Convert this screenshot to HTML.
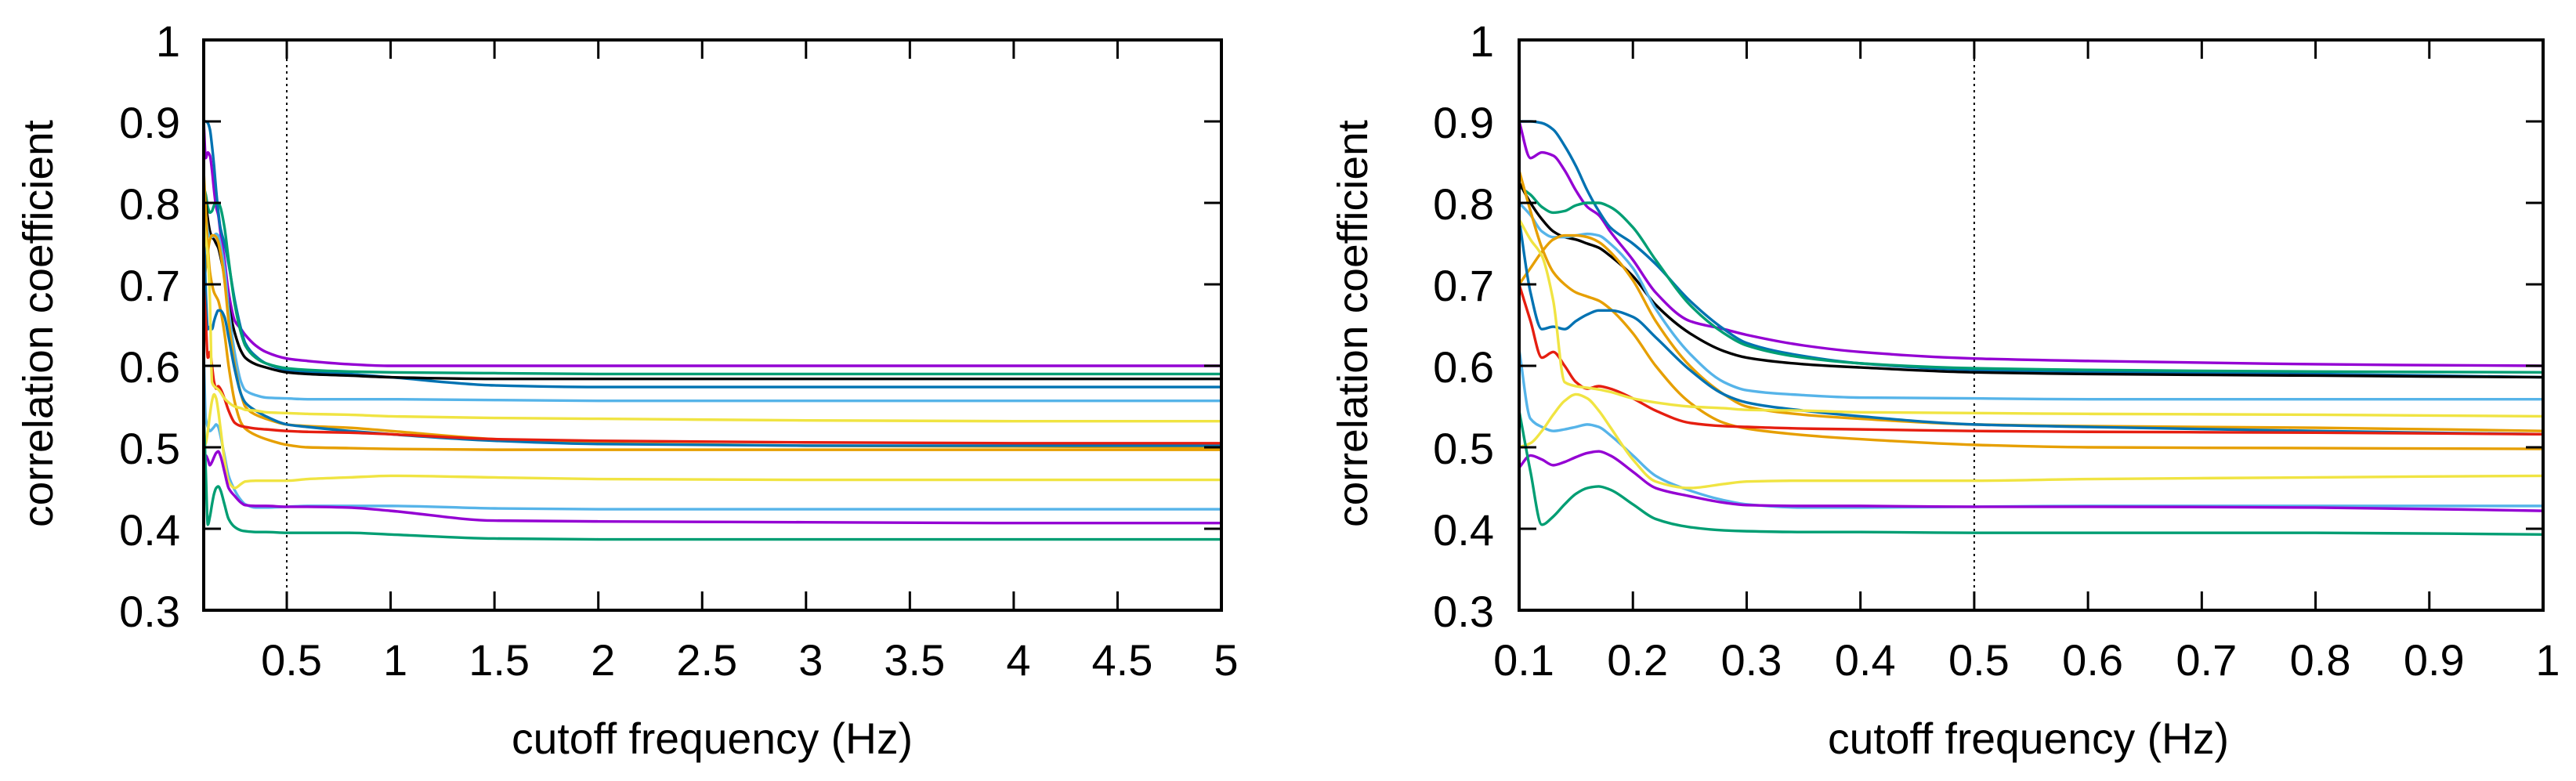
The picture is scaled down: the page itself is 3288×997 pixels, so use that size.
<!DOCTYPE html>
<html><head><meta charset="utf-8"><style>
html,body{margin:0;padding:0;background:#fff;}
svg{display:block;}
text{font-family:"Liberation Sans",sans-serif;fill:#000;}
</style></head>
<body>
<svg id="chart" width="3288" height="997" viewBox="0 0 3288 997" xmlns="http://www.w3.org/2000/svg"></svg>
<script>
const xs = [0.1,0.11,0.12,0.13,0.14,0.15,0.16,0.17,0.18,0.2,0.22,0.25,0.28,0.3,0.35,0.4,0.5,0.6,0.8,1,1.5,2,3,4,5];
const purple1 = [0.90,0.855,0.862,0.858,0.84,0.815,0.795,0.785,0.765,0.73,0.69,0.655,0.645,0.638,0.625,0.617,0.609,0.606,0.602,0.600,0.600,0.600,0.600,0.600,0.600];
const blue1 = [0.90,0.90,0.898,0.89,0.87,0.845,0.815,0.79,0.77,0.75,0.725,0.68,0.645,0.628,0.612,0.603,0.595,0.593,0.59,0.586,0.576,0.574,0.574,0.574,0.574];
const green1 = [0.82,0.81,0.795,0.788,0.79,0.797,0.80,0.80,0.795,0.77,0.73,0.675,0.64,0.625,0.61,0.603,0.597,0.595,0.593,0.592,0.591,0.59,0.59,0.59,0.59];
const black1 = [0.825,0.80,0.78,0.765,0.758,0.755,0.75,0.745,0.735,0.71,0.675,0.64,0.618,0.61,0.602,0.598,0.592,0.59,0.588,0.586,0.584,0.584,0.584,0.584,0.584];
const lightblue1 = [0.80,0.785,0.765,0.758,0.758,0.76,0.762,0.76,0.75,0.72,0.67,0.615,0.58,0.57,0.564,0.561,0.56,0.559,0.559,0.559,0.558,0.557,0.557,0.557,0.557];
const orange1 = [0.70,0.72,0.74,0.755,0.76,0.76,0.758,0.752,0.74,0.705,0.655,0.60,0.565,0.55,0.54,0.535,0.528,0.526,0.524,0.52,0.51,0.505,0.502,0.501,0.50];
const orange2 = [0.84,0.79,0.745,0.715,0.70,0.69,0.685,0.68,0.67,0.64,0.60,0.555,0.53,0.523,0.515,0.51,0.503,0.50,0.499,0.498,0.497,0.497,0.497,0.497,0.497];
const blue2 = [0.78,0.69,0.645,0.648,0.645,0.655,0.663,0.668,0.668,0.66,0.635,0.595,0.565,0.555,0.545,0.538,0.528,0.525,0.52,0.516,0.508,0.504,0.502,0.502,0.502];
const red1 = [0.70,0.655,0.61,0.617,0.60,0.58,0.572,0.575,0.572,0.56,0.545,0.53,0.526,0.525,0.523,0.522,0.52,0.519,0.518,0.516,0.51,0.508,0.506,0.505,0.505];
const yellow1 = [0.78,0.755,0.735,0.68,0.58,0.575,0.573,0.571,0.568,0.56,0.555,0.55,0.548,0.546,0.545,0.543,0.542,0.541,0.54,0.538,0.536,0.535,0.533,0.532,0.532];
const lightblue2 = [0.62,0.535,0.525,0.52,0.522,0.525,0.528,0.525,0.515,0.49,0.465,0.447,0.435,0.43,0.426,0.426,0.427,0.428,0.428,0.428,0.425,0.424,0.424,0.424,0.424];
const yellow2 = [0.50,0.505,0.52,0.54,0.557,0.565,0.56,0.545,0.525,0.485,0.458,0.45,0.455,0.458,0.459,0.459,0.459,0.461,0.463,0.465,0.463,0.461,0.46,0.46,0.46];
const purple2 = [0.475,0.49,0.485,0.478,0.482,0.488,0.493,0.495,0.49,0.47,0.45,0.44,0.432,0.429,0.428,0.428,0.427,0.427,0.426,0.422,0.41,0.409,0.408,0.407,0.407];
const green2 = [0.545,0.47,0.405,0.415,0.43,0.443,0.45,0.452,0.448,0.43,0.412,0.402,0.398,0.397,0.396,0.396,0.395,0.395,0.395,0.393,0.388,0.387,0.387,0.387,0.387];
const seriesNames = ['purple-1','blue-1','green-1','black','light-blue-1','orange-1','orange-2','blue-2','red','yellow-1','light-blue-2','yellow-2','purple-2','green-2'];
const seriesValues = [purple1,blue1,green1,black1,lightblue1,orange1,orange2,blue2,red1,yellow1,lightblue2,yellow2,purple2,green2];
const seriesColors = ['#9400d3','#0072b2','#009e73','#000000','#56b4e9','#e69f00','#e69f00','#0072b2','#e51e10','#f0e442','#56b4e9','#f0e442','#9400d3','#009e73'];
const yTicks = [0.3,0.4,0.5,0.6,0.7,0.8,0.9,1];
const yTickLabels = ['0.3','0.4','0.5','0.6','0.7','0.8','0.9','1'];
const leftXTicks = [0.5,1,1.5,2,2.5,3,3.5,4,4.5,5];
const leftXTickLabels = ['0.5','1','1.5','2','2.5','3','3.5','4','4.5','5'];
const rightXTicks = [0.1,0.2,0.3,0.4,0.5,0.6,0.7,0.8,0.9,1];
const rightXTickLabels = ['0.1','0.2','0.3','0.4','0.5','0.6','0.7','0.8','0.9','1'];
const markerX = 0.5;

const NS='http://www.w3.org/2000/svg';
const svg=document.getElementById('chart');
function mk(tag, attrs, parent){const e=document.createElementNS(NS,tag);for(const k in attrs)e.setAttribute(k,attrs[k]);(parent||svg).appendChild(e);return e;}

function monotonePath(px,py){
  const n=px.length; const d=[],m=new Array(n);
  for(let i=0;i<n-1;i++) d.push((py[i+1]-py[i])/(px[i+1]-px[i]));
  m[0]=d[0]; m[n-1]=d[n-2];
  for(let i=1;i<n-1;i++){ if(d[i-1]*d[i]<=0) m[i]=0; else { const h0=px[i]-px[i-1],h1=px[i+1]-px[i]; const w1=2*h1+h0,w2=h1+2*h0; m[i]=(w1+w2)/(w1/d[i-1]+w2/d[i]); } }
  let s='M'+px[0].toFixed(2)+','+py[0].toFixed(2);
  for(let i=0;i<n-1;i++){const h=(px[i+1]-px[i])/3;
    s+=' C'+(px[i]+h).toFixed(2)+','+(py[i]+m[i]*h).toFixed(2)+' '+(px[i+1]-h).toFixed(2)+','+(py[i+1]-m[i+1]*h).toFixed(2)+' '+px[i+1].toFixed(2)+','+py[i+1].toFixed(2);}
  return s;
}

function panel(cfg){
  const g=mk('g',{});
  
  
  const L=cfg.left,R=cfg.right,T=51,B=779;
  const xS=v=>L+(v-cfg.x0)/(cfg.x1-cfg.x0)*(R-L);
  const yS=v=>B-(v-0.3)/0.7*(B-T);
  const cid='clip-'+cfg.name;
  const cp=mk('clipPath',{id:cid},g); mk('rect',{x:L,y:T,width:R-L,height:B-T},cp);
  const dl=mk('line',{x1:xS(markerX),x2:xS(markerX),y1:T,y2:B,stroke:'#000','stroke-width':2,'stroke-dasharray':'3,5'},g);
  
  
  const lg=mk('g',{'clip-path':'url(#'+cid+')'},g);
  for(let s=0;s<seriesValues.length;s++){
    const px=xs.map(xS), py=seriesValues[s].map(yS);
    const p=mk('path',{d:monotonePath(px,py),fill:'none',stroke:seriesColors[s],'stroke-width':3.4,'stroke-linejoin':'round'},lg);
    
    
  }
  for(let i=0;i<yTicks.length;i++){
    const y=yS(yTicks[i]);
    mk('line',{x1:L,x2:L+22,y1:y,y2:y,stroke:'#000','stroke-width':3},g);
    mk('line',{x1:R-22,x2:R,y1:y,y2:y,stroke:'#000','stroke-width':3},g);
    const t=mk('text',{x:cfg.yLabelX,y:y+21,'font-size':56,'text-anchor':'end'},g);
    t.textContent=yTickLabels[i];
    
    
  }
  for(let i=0;i<cfg.ticks.length;i++){
    const x=xS(cfg.ticks[i]);
    mk('line',{x1:x,x2:x,y1:B,y2:B-24,stroke:'#000','stroke-width':3},g);
    mk('line',{x1:x,x2:x,y1:T,y2:T+24,stroke:'#000','stroke-width':3},g);
    const t=mk('text',{x:x+6,y:862,'font-size':56,'text-anchor':'middle'},g);
    t.textContent=cfg.labels[i];
    
    
  }
  const box=mk('rect',{x:L,y:T,width:R-L,height:B-T,fill:'none',stroke:'#000','stroke-width':4},g);
  
  
  const yt=mk('text',{x:0,y:0,'font-size':54,'text-anchor':'middle',transform:'translate('+(cfg.yTitleX+18)+',413) rotate(-90)',textLength:520,lengthAdjust:'spacingAndGlyphs'},g);
  yt.textContent='correlation coefficient';
  
  
  const xt=mk('text',{x:cfg.xTitleX,y:962,'font-size':56,'text-anchor':'middle',textLength:512,lengthAdjust:'spacingAndGlyphs'},g);
  xt.textContent='cutoff frequency (Hz)';
  
  
}
panel({name:'full-range-panel',left:260,right:1559,x0:0.1,x1:5,ticks:leftXTicks,labels:leftXTickLabels,yLabelX:230,yTitleX:49,xTitleX:909});
panel({name:'zoomed-panel',left:1939,right:3246,x0:0.1,x1:1,ticks:rightXTicks,labels:rightXTickLabels,yLabelX:1907,yTitleX:1727,xTitleX:2589});
</script>
</body></html>
